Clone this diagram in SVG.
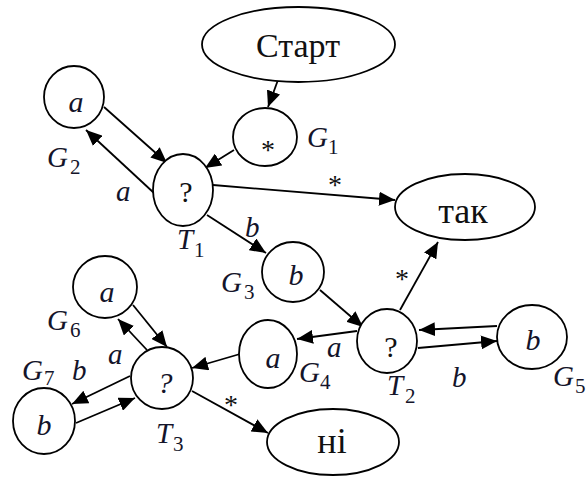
<svg xmlns="http://www.w3.org/2000/svg" width="587" height="480" viewBox="0 0 587 480">
  <defs>
    <marker id="arrow" markerUnits="userSpaceOnUse" markerWidth="18" markerHeight="14" refX="16" refY="7" orient="auto">
      <path d="M0,0 L16,7 L0,14 Z" fill="#000"/>
    </marker>
    <style>
      .node { fill: #fff; stroke: #000; stroke-width: 1.8; }
      .edge { stroke: #000; stroke-width: 1.8; fill: none; marker-end: url(#arrow); }
      .word { font-family: "Liberation Serif", "Times New Roman", serif; font-size: 36px; fill: #111; text-anchor: middle; }
      .sym { font-family: "Liberation Serif", "Times New Roman", serif; font-size: 30px; fill: #111; text-anchor: middle; }
      .var { font-family: "Liberation Serif", "Times New Roman", serif; font-style: italic; font-size: 30px; fill: #14142a; text-anchor: middle; }
      .lab { font-family: "Liberation Serif", "Times New Roman", serif; font-style: italic; font-size: 29px; fill: #14142a; }
      .sub { font-family: "Liberation Serif", "Times New Roman", serif; font-size: 21px; fill: #14142a; }
      .star { font-family: "Liberation Serif", "Times New Roman", serif; font-size: 28px; fill: #111; text-anchor: middle; }
    </style>
  </defs>

  <!-- connectors -->
  <g id="edges">
    <line class="edge" x1="278" y1="80" x2="268" y2="107"/>
    <line class="edge" x1="104" y1="107" x2="167" y2="163"/>
    <line class="edge" x1="154" y1="193" x2="86" y2="130"/>
    <line class="edge" x1="234" y1="150" x2="205" y2="168"/>
    <line class="edge" x1="213" y1="185" x2="395" y2="200"/>
    <line class="edge" x1="207" y1="215" x2="266" y2="253"/>
    <line class="edge" x1="320" y1="290" x2="363" y2="327"/>
    <line class="edge" x1="400" y1="310" x2="438" y2="242"/>
    <line class="edge" x1="357" y1="331" x2="297" y2="339"/>
    <line class="edge" x1="497" y1="326" x2="419" y2="330"/>
    <line class="edge" x1="418" y1="348" x2="497" y2="341"/>
    <line class="edge" x1="240" y1="354" x2="192" y2="368"/>
    <line class="edge" x1="133" y1="305" x2="167" y2="347"/>
    <line class="edge" x1="147" y1="350" x2="118" y2="319"/>
    <line class="edge" x1="130" y1="376" x2="72" y2="404"/>
    <line class="edge" x1="76" y1="423" x2="135" y2="398"/>
    <line class="edge" x1="192" y1="391" x2="268" y2="433"/>
  </g>

  <!-- edge labels -->
  <g id="edge-labels">
    <text class="lab" x="116" y="201">a</text>
    <text class="lab" x="245" y="237">b</text>
    <text class="star" x="335" y="194">*</text>
    <text class="star" x="402" y="288">*</text>
    <text class="lab" x="327" y="357">a</text>
    <text class="lab" x="452" y="387">b</text>
    <text class="lab" x="108" y="364">a</text>
    <text class="lab" x="72" y="380">b</text>
    <text class="star" x="231" y="414">*</text>
  </g>

  <g id="start">
    <ellipse class="node" cx="298.5" cy="44.5" rx="96.5" ry="37.5"/>
    <text class="word" x="298" y="57" style="font-size:34px">Старт</text>
  </g>

  <g id="G1">
    <ellipse class="node" cx="265" cy="137" rx="32" ry="29"/>
    <text class="star" x="268" y="159">*</text>
    <text class="lab" x="307" y="147">G</text><text class="sub" x="328" y="154">1</text>
  </g>

  <g id="G2">
    <ellipse class="node" cx="74" cy="97" rx="30" ry="31"/>
    <text class="var" x="76" y="112">a</text>
    <text class="lab" x="47" y="167">G</text><text class="sub" x="70" y="174">2</text>
  </g>

  <g id="T1">
    <ellipse class="node" cx="183" cy="190" rx="30" ry="36"/>
    <text class="sym" x="186" y="202">?</text>
    <text class="lab" x="177" y="249">T</text><text class="sub" x="194" y="257">1</text>
  </g>

  <g id="yes">
    <ellipse class="node" cx="465" cy="207" rx="70" ry="33"/>
    <text class="word" x="463" y="223">так</text>
  </g>

  <g id="G3">
    <ellipse class="node" cx="293" cy="272" rx="31" ry="30"/>
    <text class="var" x="296" y="285">b</text>
    <text class="lab" x="221" y="292">G</text><text class="sub" x="244" y="299">3</text>
  </g>

  <g id="T2">
    <ellipse class="node" cx="387" cy="341" rx="30" ry="32"/>
    <text class="sym" x="391" y="357">?</text>
    <text class="lab" x="387" y="395">T</text><text class="sub" x="405" y="403">2</text>
  </g>

  <g id="G5">
    <ellipse class="node" cx="532" cy="337" rx="35" ry="32"/>
    <text class="var" x="533" y="350">b</text>
    <text class="lab" x="553" y="386">G</text><text class="sub" x="575" y="393">5</text>
  </g>

  <g id="G4">
    <ellipse class="node" cx="268" cy="354" rx="29" ry="34"/>
    <text class="var" x="273" y="368">a</text>
    <text class="lab" x="299" y="382">G</text><text class="sub" x="320" y="389">4</text>
  </g>

  <g id="no">
    <ellipse class="node" cx="333" cy="442" rx="66" ry="33"/>
    <text class="word" x="332" y="453">ні</text>
  </g>

  <g id="G6">
    <ellipse class="node" cx="105" cy="287" rx="32" ry="31"/>
    <text class="var" x="107" y="302">a</text>
    <text class="lab" x="47" y="330">G</text><text class="sub" x="70" y="337">6</text>
  </g>

  <g id="T3">
    <ellipse class="node" cx="162" cy="378" rx="31" ry="31"/>
    <text class="var" x="165" y="393">?</text>
    <text class="lab" x="156" y="443">T</text><text class="sub" x="173" y="451">3</text>
  </g>

  <g id="G7">
    <ellipse class="node" cx="44" cy="421" rx="31" ry="33"/>
    <text class="var" x="44" y="435">b</text>
    <text class="lab" x="22" y="380">G</text><text class="sub" x="44" y="385">7</text>
  </g>
</svg>
